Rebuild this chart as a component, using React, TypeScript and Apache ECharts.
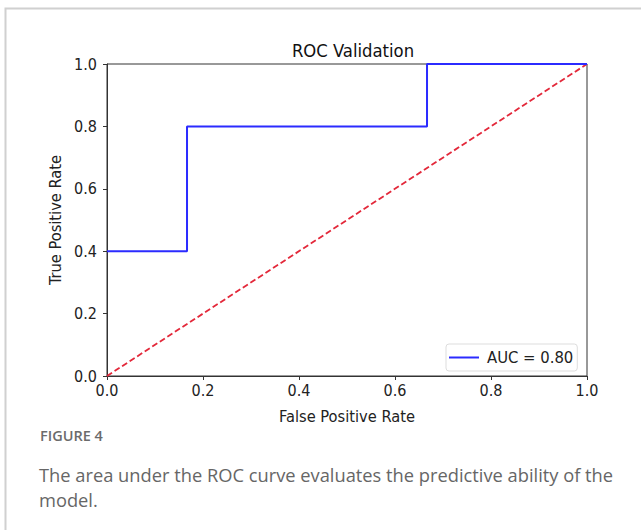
import React, { useEffect, useRef } from "react";
import * as echarts from "echarts";

const fpr = [0, 0.1667, 0.1667, 0.6667, 0.6667, 1.0];
const tpr = [0.4, 0.4, 0.8, 0.8, 1.0, 1.0];
const chanceX = [0, 1];
const chanceY = [0, 1];
const rocLabel = "AUC = 0.80";
const titleText = "ROC Validation";
const xName = "False Positive Rate";
const yName = "True Positive Rate";
const figLabel = "FIGURE 4";
const captionLines = [
  "The area under the ROC curve evaluates the predictive ability of the",
  "model.",
];

export default function App() {
  const ref = useRef<HTMLDivElement>(null);
  useEffect(() => {
    if (!ref.current) return;
    const chart = echarts.init(ref.current, undefined, { renderer: "svg" });
    const mpl = "'DejaVu Sans Condensed', 'DejaVu Sans', sans-serif";
    const axisCommon = {
      type: "value" as const,
      min: 0,
      max: 1,
      interval: 0.2,
      axisLine: { show: true, lineStyle: { color: "#333", width: 1 } },
      axisTick: { show: true, inside: false, length: 4, lineStyle: { color: "#333" } },
      splitLine: { show: false },
      axisLabel: {
        color: "#222",
        fontFamily: mpl,
        fontSize: 16,
        formatter: (v: number) => v.toFixed(1),
      },
      nameTextStyle: { color: "#222", fontFamily: mpl, fontSize: 16.3 },
    };
    chart.setOption({
      animation: false,
      backgroundColor: "#fff",
      title: {
        text: titleText,
        left: 348,
        top: 36,
        textAlign: "center",
        textStyle: { fontFamily: mpl, fontSize: 18.3, fontWeight: "normal", color: "#111" },
      },
      grid: {
        left: 107,
        top: 64,
        width: 480,
        height: 312,
        show: true,
        borderColor: "#333",
        borderWidth: 1,
        backgroundColor: "transparent",
      },
      legend: {
        left: 446,
        top: 344,
        data: [rocLabel],
        icon: "rect",
        itemWidth: 30,
        itemHeight: 2,
        itemGap: 10,
        padding: [5, 4, 5, 3],
        borderColor: "#ddd",
        borderWidth: 1,
        borderRadius: 3,
        backgroundColor: "#fff",
        textStyle: { fontFamily: mpl, fontSize: 16.5, color: "#222", padding: [0, 0, 0, 3] },
      },
      xAxis: {
        ...axisCommon,
        name: xName,
        nameLocation: "middle",
        nameGap: 32,
        axisLabel: { ...axisCommon.axisLabel, margin: 6 },
      },
      yAxis: {
        ...axisCommon,
        name: yName,
        nameLocation: "middle",
        nameGap: 43,
        axisLabel: { ...axisCommon.axisLabel, margin: 10 },
      },
      series: [
        {
          name: "chance",
          type: "line",
          data: chanceX.map((x, i) => [x, chanceY[i]]),
          symbol: "none",
          lineStyle: { color: "#e3283a", width: 1.8, type: [6, 3] },
          z: 2,
        },
        {
          name: rocLabel,
          type: "line",
          data: fpr.map((x, i) => [x, tpr[i]]),
          symbol: "none",
          itemStyle: { color: "#2b2bff" },
          lineStyle: { color: "#2b2bff", width: 2 },
          z: 3,
        },
      ],
      graphic: [
        {
          type: "rect",
          shape: { x: 5.5, y: 8.5, width: 700, height: 600 },
          style: { fill: "none", stroke: "#d0d0d0", lineWidth: 2 },
          silent: true,
        },
        {
          type: "text",
          x: 40,
          y: 428,
          style: {
            text: figLabel,
            fontFamily: "Open Sans",
            fontSize: 14.5,
            fontWeight: 600,
            fill: "#6b6b6b",
          },
        },
        {
          type: "text",
          x: 39,
          y: 462,
          style: {
            text: captionLines.join("\n"),
            fontFamily: "Open Sans",
            fontSize: 18.3,
            lineHeight: 25,
            fill: "#666",
          },
        },
      ],
    });
    return () => chart.dispose();
  }, []);
  return (
    <div
      ref={ref}
      style={{ position: "fixed", left: 0, top: 0, width: 641, height: 530 }}
    />
  );
}
